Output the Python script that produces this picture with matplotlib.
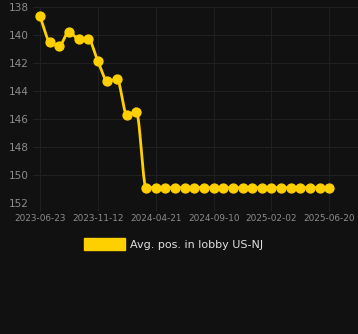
import numpy as np
import matplotlib
matplotlib.use("Agg")
import matplotlib.pyplot as plt
from matplotlib.patches import Patch

# x axis is categorical: 31 snapshots, labelled every 6th
tick_labels = ["2023-06-23", "2023-11-12", "2024-04-21", "2024-09-10", "2025-02-02", "2025-06-20"]
tick_idx = [0, 6, 12, 18, 24, 30]
positions = [138.7, 140.5, 140.8, 139.8, 140.3, 140.3, 141.9, 143.3, 143.2, 145.7, 145.5] + [150.9] * 20

BG = "#111111"
GOLD = "#FFD000"
GRID = "#202020"


def monotone(x, y, n=20):
    """Fritsch-Carlson monotone cubic, only for drawing the smooth line."""
    x = np.asarray(x, float)
    y = np.asarray(y, float)
    h = np.diff(x)
    d = np.diff(y) / h
    m = np.zeros_like(y)
    m[0], m[-1] = d[0], d[-1]
    for i in range(1, len(y) - 1):
        if d[i - 1] * d[i] <= 0:
            m[i] = 0
        else:
            w1 = 2 * h[i] + h[i - 1]
            w2 = h[i] + 2 * h[i - 1]
            m[i] = (w1 + w2) / (w1 / d[i - 1] + w2 / d[i])
    xs, ys = [], []
    for i in range(len(h)):
        t = np.linspace(0, 1, n, endpoint=False)
        h00 = 2 * t**3 - 3 * t**2 + 1
        h10 = t**3 - 2 * t**2 + t
        h01 = -2 * t**3 + 3 * t**2
        h11 = t**3 - t**2
        xs.append(x[i] + t * h[i])
        ys.append(h00 * y[i] + h10 * h[i] * m[i] + h01 * y[i + 1] + h11 * h[i] * m[i + 1])
    xs.append([x[-1]])
    ys.append([y[-1]])
    return np.concatenate(xs), np.concatenate(ys)


x = np.arange(len(positions))
fig = plt.figure(figsize=(3.58, 3.34), dpi=100, facecolor=BG)
ax = fig.add_axes([33 / 358, 1 - 203 / 334, 1 - 33 / 358, 196.5 / 334])
ax.set_facecolor(BG)

sx, sy = monotone(x, positions)
ax.plot(sx, sy, color=GOLD, lw=2.0, solid_capstyle="round", zorder=3)
ax.plot(x, positions, ls="none", marker="o", ms=6.4, color=GOLD, zorder=4)

ax.set_ylim(152, 138)
ax.set_yticks(range(138, 153, 2))
ax.set_xlim(-0.72, 32.97)
ax.set_xticks(tick_idx)
ax.set_xticklabels(tick_labels)

ax.grid(True, color=GRID, lw=0.8)
ax.set_axisbelow(True)
for s in ax.spines.values():
    s.set_visible(False)
ax.tick_params(axis="y", length=0, pad=3, labelsize=7.6, labelcolor="#8c8c8c")
ax.tick_params(axis="x", length=6, color=GRID, pad=2, labelsize=6.4, labelcolor="#8c8c8c")

fig.legend(handles=[Patch(facecolor=GOLD, edgecolor=GOLD)],
           labels=["Avg. pos. in lobby US-NJ"],
           loc="center", bbox_to_anchor=(173.5 / 358, 1 - 244 / 334), frameon=False,
           handlelength=3.7, handleheight=1.3, handletextpad=0.45,
           fontsize=8, labelcolor="#e0e0e0")

fig.savefig("out.png", dpi=100, facecolor=BG)
